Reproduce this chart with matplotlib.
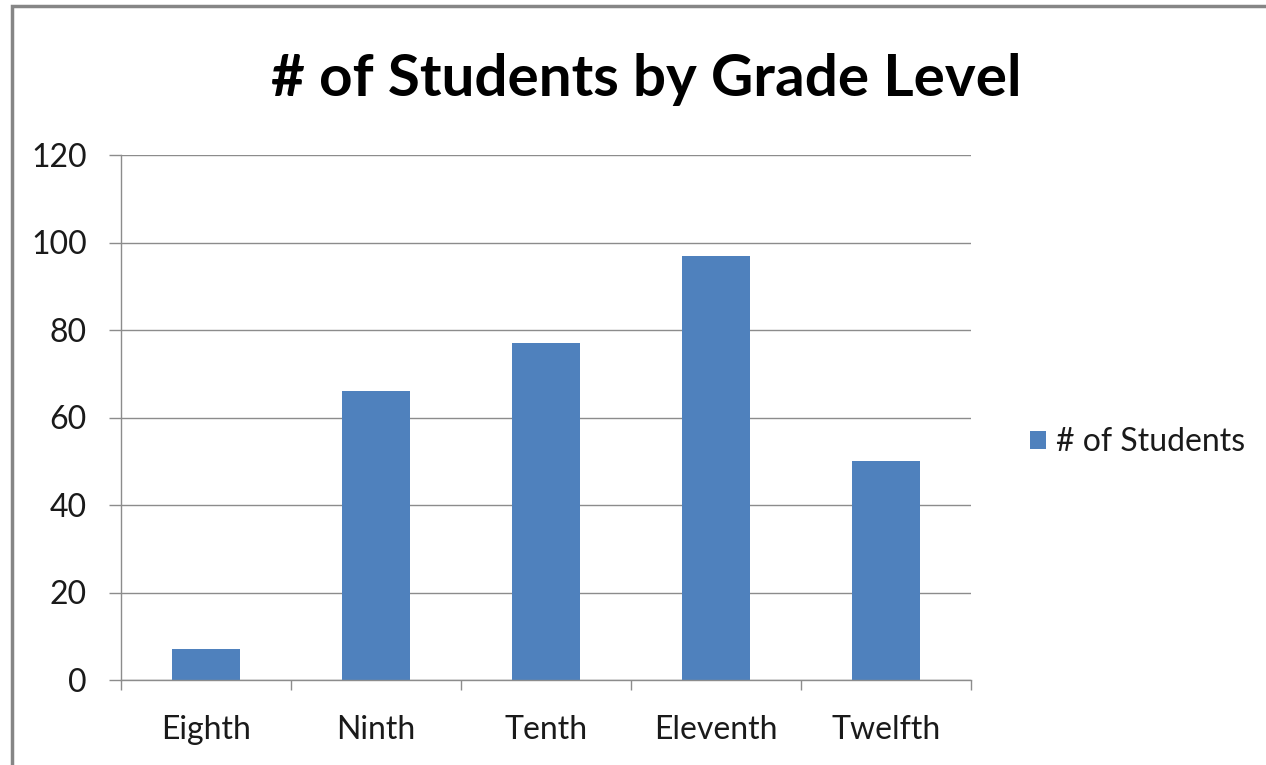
import matplotlib.pyplot as plt
from matplotlib.patches import Rectangle

plt.rcParams["font.family"] = ["Lato", "DejaVu Sans"]

# data
grades = ["Eighth", "Ninth", "Tenth", "Eleventh", "Twelfth"]
students = [7, 66, 77, 97, 50]
y_ticks = [0, 20, 40, 60, 80, 100, 120]

bar_color = "#4F81BD"
grid_color = "#8C8C8C"
text_color = "#1a1a1a"
fs = 23

W, H = 1266, 765
fig = plt.figure(figsize=(W / 100, H / 100), dpi=100)

# axes in pixel coordinates
left, right, top, bottom = 121, 971, 155, 680
ax = fig.add_axes([left / W, 1 - bottom / H, (right - left) / W, (bottom - top) / H])

x = list(range(len(grades)))
ax.bar(x, students, width=0.4, color=bar_color, edgecolor="none", zorder=3,
       label="# of Students")

ax.set_xlim(-0.5, len(grades) - 0.5)
ax.set_ylim(0, 120)
ax.set_yticks(y_ticks)
ax.set_yticklabels([str(t) for t in y_ticks])
ax.yaxis.grid(True, color=grid_color, linewidth=1.0, zorder=0)

# x ticks at category boundaries, labels at centres
ax.set_xticks([i - 0.5 for i in range(len(grades) + 1)])
ax.set_xticklabels([])
ax.set_xticks(x, minor=True)
ax.set_xticklabels(grades, minor=True)
ax.tick_params(axis="x", which="major", length=7.2, width=1, color=grid_color)
ax.tick_params(axis="x", which="minor", length=0, pad=25, labelsize=fs, labelcolor=text_color)
ax.tick_params(axis="y", length=8.6, width=1, color=grid_color, pad=16, labelsize=fs,
               labelcolor=text_color)

for side in ["top", "right"]:
    ax.spines[side].set_visible(False)
for side in ["left", "bottom"]:
    ax.spines[side].set_color(grid_color)
    ax.spines[side].set_linewidth(1.0)
    ax.spines[side].set_zorder(4)

fig.text(0.5 * (272 + 1020) / W, 1 - 80 / H, "# of Students by Grade Level",
         ha="center", va="center", fontsize=42, fontweight="bold", color="black")

leg = ax.legend(loc="center left",
                bbox_to_anchor=((1030 - left) / (right - left), (bottom - 442) / (bottom - top)),
                frameon=False, fontsize=fs, handlelength=0.5, handleheight=0.5,
                handletextpad=0.3, borderpad=0, borderaxespad=0)
for t in leg.get_texts():
    t.set_color(text_color)

# outer border of the chart area (cropped on the right and bottom)
fig.add_artist(Rectangle((12 / W, -0.1), 1.2, 1 - 6.5 / H + 0.1, transform=fig.transFigure,
                         fill=False, edgecolor="#868686", linewidth=2.5))

fig.savefig("out.png", dpi=100, facecolor="white")
